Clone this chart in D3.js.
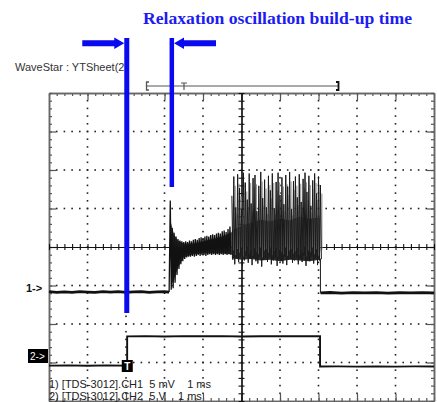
<!DOCTYPE html>
<html>
<head>
<meta charset="utf-8">
<script src="https://cdn.jsdelivr.net/npm/d3@7"></script>
<style>
  body { margin: 0; background: #fff; }
  svg { display: block; }
</style>
</head>
<body>
<div id="scope"></div>
<script>
// scope setup: 1 ms/div, CH1 5 mV/div, CH2 5 V/div
const timeDomain = [0, 10];
const divDomain = [-4, 4];
const ch1PerDiv = 5;
const ch2PerDiv = 5;
const ch1Ground = -1.17;   // divisions
const ch2Ground = -3.08;

// CH1 flat part before lasing (ms, mV)
const ch1PreTime = [0, 0.2, 0.4, 0.6, 0.8, 1.0, 1.2, 1.4, 1.6, 1.8, 2.0, 2.2, 2.4, 2.6, 2.8, 3.0, 3.12];
const ch1PreVal  = [0.05, -0.05, 0.02, -0.04, 0.06, 0, -0.04, 0.05, -0.02, 0.06, -0.04, 0.02, 0.05, -0.05, 0.02, 0.04, 0];

// CH1 ringing after first spike, one cycle every 0.05 ms from 3.15 ms
const ringStart = 3.15;
const ringTop = [11.9, 8.3, 7.7, 7.2, 6.9, 6.7, 6.6, 6.5, 6.6, 6.5, 6.7, 6.6, 6.8, 6.9, 6.8, 7.0,
                 7.1, 7.0, 7.2, 7.3, 7.2, 7.4, 7.5, 7.4, 7.6, 7.7, 7.6, 7.9, 8.0, 7.8, 8.2, 8.5];
const ringBot = [0.3, 0.5, 1.2, 2.2, 3.0, 3.6, 4.0, 4.3, 4.5, 4.6, 4.6, 4.7, 4.6, 4.7, 4.8, 4.7,
                 4.8, 4.8, 4.7, 4.8, 4.9, 4.8, 4.9, 4.8, 4.9, 4.8, 4.9, 4.8, 4.9, 4.8, 4.9, 4.8];
// dark core of the ringing (ms, mV)
const ringCoreTime = [3.17, 3.25, 3.35, 3.5, 3.75, 4.0, 4.25, 4.5, 4.75];
const ringCoreTop  = [9.0, 7.4, 6.7, 6.3, 6.3, 6.6, 6.9, 7.2, 7.8];
const ringCoreBot  = [0.8, 1.6, 3.2, 4.5, 4.9, 5.0, 5.0, 5.0, 4.9];

// CH1 relaxation oscillation burst, one spike every 0.05 ms from 4.75 ms
const burstStart = 4.75;
const burstTop = [12.5, 15.0, 11.0, 15.3, 13.5, 10.8, 15.5, 14.2, 12.0, 15.4, 11.5, 14.8, 15.2, 10.5, 13.8, 15.6,
                  12.2, 14.6, 11.0, 15.1, 13.2, 15.4, 10.9, 14.3, 15.5, 12.6, 14.9, 11.4, 15.2, 13.7, 15.6, 10.8,
                  14.4, 15.0, 12.3, 15.3, 11.7, 14.7, 15.5, 13.0, 15.1, 11.2, 14.5, 15.4, 12.8, 15.0, 13.9];
const burstBot = [4.2, 3.6, 4.4, 3.9, 4.6, 3.4, 4.1, 4.7, 3.8, 4.3, 3.5, 4.5, 4.0, 3.7, 4.6, 3.3,
                  4.2, 4.4, 3.9, 4.6, 3.6, 4.1, 4.5, 3.4, 4.3, 4.0, 3.7, 4.6, 3.5, 4.2, 4.4, 3.8,
                  4.1, 4.5, 3.6, 4.3, 3.9, 4.7, 3.4, 4.2, 4.0, 4.6, 3.7, 4.4, 3.5, 4.1, 4.3];
// dense floor under the burst (ms, mV)
const floorTime = [4.75, 5.0, 5.25, 5.5, 5.75, 6.0, 6.25, 6.5, 6.75, 7.04];
const floorTop  = [8.0, 8.6, 9.0, 9.4, 9.2, 9.6, 9.3, 9.8, 9.5, 9.7];
const floorBot  = [4.4, 4.2, 4.3, 4.1, 4.2, 4.0, 4.2, 4.1, 4.0, 4.2];
const burstEnd = 7.05;

// CH1 after the pump pulse
const ch1PostTime = [7.05, 7.3, 7.6, 7.9, 8.2, 8.5, 8.8, 9.1, 9.4, 9.7, 10];
const ch1PostVal  = [-0.1, -0.06, -0.14, -0.08, -0.12, -0.07, -0.13, -0.09, -0.12, -0.07, -0.1];

// CH2 pump gate (ms, V)
const ch2Time = [0, 0.5, 1.0, 1.5, 2.03, 2.03, 2.5, 3.0, 3.5, 4.0, 4.5, 5.0, 5.5, 6.0, 6.5, 7.04, 7.04, 7.5, 8.0, 8.5, 9.0, 9.5, 10];
const ch2Val  = [0, 0.03, -0.03, 0.03, 0, 3.8, 3.83, 3.78, 3.83, 3.8, 3.83, 3.78, 3.8, 3.83, 3.8, 3.8, -0.12, -0.1, -0.13, -0.1, -0.13, -0.1, -0.12];

const markerTimes = [2.02, 3.19];   // build-up time cursors
const titleText = "Relaxation oscillation build-up time";

const W = 437, H = 402;
const svg = d3.select("#scope").append("svg").attr("width", W).attr("height", H);

const x = d3.scaleLinear().domain(timeDomain).range([49, 434]);
const y = d3.scaleLinear().domain(divDomain).range([401, 93]);
const y1 = v => y(ch1Ground + v / ch1PerDiv);
const y2 = v => y(ch2Ground + v / ch2PerDiv);

// ---------- graticule ----------
const grid = svg.append("g");
const minorX = d3.range(0, 10.001, 0.2);
const minorY = d3.range(-4, 4.001, 0.2);
const majorX = d3.range(1, 10);
const majorY = d3.range(-3, 4);

// dotted gridlines
majorY.filter(d => d !== 0).forEach(row => {
  grid.append("g").selectAll("rect").data(minorX.slice(1, -1)).join("rect")
    .attr("x", d => x(d) - 0.8).attr("y", y(row) - 0.8)
    .attr("width", 1.6).attr("height", 1.6).attr("fill", "#222");
});
majorX.filter(d => d !== 5).forEach(col => {
  grid.append("g").selectAll("rect").data(minorY.slice(1, -1)).join("rect")
    .attr("x", x(col) - 0.8).attr("y", d => y(d) - 0.8)
    .attr("width", 1.6).attr("height", 1.6).attr("fill", "#222");
});

// frame with inward ticks
function frameAxis(axis, tx, ty, vals, size) {
  const g = grid.append("g").attr("transform", `translate(${tx},${ty})`)
    .call(axis.tickValues(vals).tickSize(size).tickSizeOuter(0).tickFormat(""));
  g.select(".domain").attr("stroke", "#666").attr("stroke-width", 1.5);
  g.selectAll(".tick line").attr("stroke", "#555").attr("stroke-width", 1.2);
  return g;
}
frameAxis(d3.axisBottom(x), 0, y(4), minorX, 3);
frameAxis(d3.axisBottom(x), 0, y(4), majorX, 7);
frameAxis(d3.axisTop(x), 0, y(-4), minorX, 3);
frameAxis(d3.axisTop(x), 0, y(-4), majorX, 7);
frameAxis(d3.axisRight(y), x(0), 0, minorY, 3);
frameAxis(d3.axisRight(y), x(0), 0, majorY, 7);
frameAxis(d3.axisLeft(y), x(10), 0, minorY, 3);
frameAxis(d3.axisLeft(y), x(10), 0, majorY, 7);

// centre cross with ticks on both sides
function centreAxis(axis, tx, ty) {
  const g = grid.append("g").attr("transform", `translate(${tx},${ty})`)
    .call(axis.tickSize(3).tickSizeOuter(0).tickFormat(""));
  g.select(".domain").attr("stroke", "#111").attr("stroke-width", 1.2);
  g.selectAll(".tick line").attr("stroke", "#111").attr("stroke-width", 1.1);
}
centreAxis(d3.axisTop(x).tickValues(minorX), 0, y(0));
centreAxis(d3.axisBottom(x).tickValues(minorX), 0, y(0));
centreAxis(d3.axisLeft(y).tickValues(minorY), x(5), 0);
centreAxis(d3.axisRight(y).tickValues(minorY), x(5), 0);

// ---------- traces ----------
const traces = svg.append("g");
const line = d3.line();

// CH2
traces.append("path")
  .attr("d", line(ch2Time.map((t, i) => [x(t), y2(ch2Val[i])])))
  .attr("fill", "none").attr("stroke", "#111").attr("stroke-width", 1.9);

// CH1 baseline before and after
traces.append("path")
  .attr("d", line(ch1PreTime.map((t, i) => [x(t), y1(ch1PreVal[i])])))
  .attr("fill", "none").attr("stroke", "#111").attr("stroke-width", 2.8);
traces.append("path")
  .attr("d", line(ch1PostTime.map((t, i) => [x(t), y1(ch1PostVal[i])])))
  .attr("fill", "none").attr("stroke", "#111").attr("stroke-width", 2.8);

// dark cores of ringing and burst
const band = d3.area();
traces.append("path")
  .attr("d", band.x((d, i) => x(ringCoreTime[i])).y0((d, i) => y1(ringCoreBot[i])).y1(d => y1(d))(ringCoreTop))
  .attr("fill", "#3a3a3a");
traces.append("path")
  .attr("d", band.x((d, i) => x(floorTime[i])).y0((d, i) => y1(floorBot[i])).y1(d => y1(d))(floorTop))
  .attr("fill", "#2a2a2a");

// zig-zag oscillation: peaks then troughs half a cycle later
const cycle = 0.05;
function zigzag(start, tops, bots) {
  const pts = [];
  tops.forEach((v, i) => {
    const t = start + i * cycle;
    pts.push([x(t), y1(v)]);
    pts.push([x(t + cycle / 2), y1(bots[i])]);
  });
  return pts;
}
const ringPts = [[x(3.12), y1(0)]].concat(zigzag(ringStart, ringTop, ringBot));
traces.append("path").attr("d", line(ringPts))
  .attr("fill", "none").attr("stroke", "#111").attr("stroke-width", 1.3);

// burst spikes: grey bars plus dark zig-zag
traces.append("g").selectAll("line").data(burstTop).join("line")
  .attr("x1", (d, i) => x(burstStart + i * cycle + cycle / 2) + 0.5)
  .attr("x2", (d, i) => x(burstStart + i * cycle + cycle / 2) + 0.5)
  .attr("y1", (d, i) => y1(burstBot[i] + 1.2))
  .attr("y2", (d, i) => y1(d * 0.92))
  .attr("stroke", "#999").attr("stroke-width", 1.1);
const burstPts = zigzag(burstStart, burstTop, burstBot)
  .concat([[x(burstEnd), y1(4.3)], [x(burstEnd), y1(-0.1)]]);
traces.append("path").attr("d", line(burstPts))
  .attr("fill", "none").attr("stroke", "#1a1a1a").attr("stroke-width", 1);

// ---------- labels ----------
const sans = "'Liberation Sans', Arial, sans-serif";
svg.append("text").attr("x", 15).attr("y", 71).text("WaveStar : YTSheet(2)")
  .attr("font-family", sans).attr("font-size", 11).attr("fill", "#333");

svg.append("text").attr("x", 26).attr("y", 292).text("1->")
  .attr("font-family", sans).attr("font-size", 11).attr("font-weight", "bold").attr("fill", "#111");

svg.append("rect").attr("x", 28).attr("y", 349).attr("width", 20).attr("height", 14).attr("fill", "#000");
svg.append("text").attr("x", 30).attr("y", 360).text("2->")
  .attr("font-family", sans).attr("font-size", 10).attr("fill", "#fff");

svg.append("rect").attr("x", x(2.02) - 5).attr("y", 360).attr("width", 11).attr("height", 12).attr("fill", "#000");
svg.append("text").attr("x", x(2.02) + 0.5).attr("y", 370).attr("text-anchor", "middle").text("T")
  .attr("font-family", sans).attr("font-size", 10).attr("font-weight", "bold").attr("fill", "#fff");

svg.append("text").attr("x", 49).attr("y", 388).text("1) [TDS-3012].CH1  5 mV    1 ms")
  .attr("font-family", sans).attr("font-size", 11).attr("fill", "#222").attr("xml:space", "preserve");
svg.append("text").attr("x", 49).attr("y", 400).text("2) [TDS-3012].CH2  5 V    1 ms")
  .attr("font-family", sans).attr("font-size", 11).attr("fill", "#222").attr("xml:space", "preserve");

// trigger / record bar
const bar = svg.append("g").attr("stroke", "#555").attr("fill", "none");
bar.append("line").attr("x1", 147).attr("x2", 338).attr("y1", 86).attr("y2", 86).attr("stroke-width", 1);
bar.append("path").attr("d", "M149,82 H146.5 V90 H149").attr("stroke-width", 1.3);
bar.append("path").attr("d", "M336,82 H338.5 V90 H336").attr("stroke", "#111").attr("stroke-width", 1.8);
bar.append("path").attr("d", "M181,83 H187 M184,83 V90").attr("stroke-width", 1.2);

// ---------- blue annotation ----------
const blue = "#0a0af0";
svg.append("text").attr("x", 143).attr("y", 24).text(titleText)
  .attr("font-family", "'Liberation Serif', 'Times New Roman', serif").attr("font-size", 17.5)
  .attr("font-weight", "bold").attr("fill", "#1c1cf2")
  .attr("textLength", 269).attr("lengthAdjust", "spacingAndGlyphs");

svg.append("line").attr("x1", x(markerTimes[0])).attr("x2", x(markerTimes[0]))
  .attr("y1", 38).attr("y2", 313).attr("stroke", blue).attr("stroke-width", 5);
svg.append("line").attr("x1", x(markerTimes[1])).attr("x2", x(markerTimes[1]))
  .attr("y1", 38).attr("y2", 187).attr("stroke", blue).attr("stroke-width", 4.5);

const ax0 = x(markerTimes[0]) - 2.5, ax1 = x(markerTimes[1]) + 2.2;
svg.append("path")
  .attr("d", `M${ax0 - 42},40.3 H${ax0 - 10} V37.5 L${ax0},43.3 L${ax0 - 10},49 V46.3 H${ax0 - 42} Z`)
  .attr("fill", blue);
svg.append("path")
  .attr("d", `M${ax1 + 42},40.3 H${ax1 + 10} V37.5 L${ax1},43.3 L${ax1 + 10},49 V46.3 H${ax1 + 42} Z`)
  .attr("fill", blue);
</script>
</body>
</html>
